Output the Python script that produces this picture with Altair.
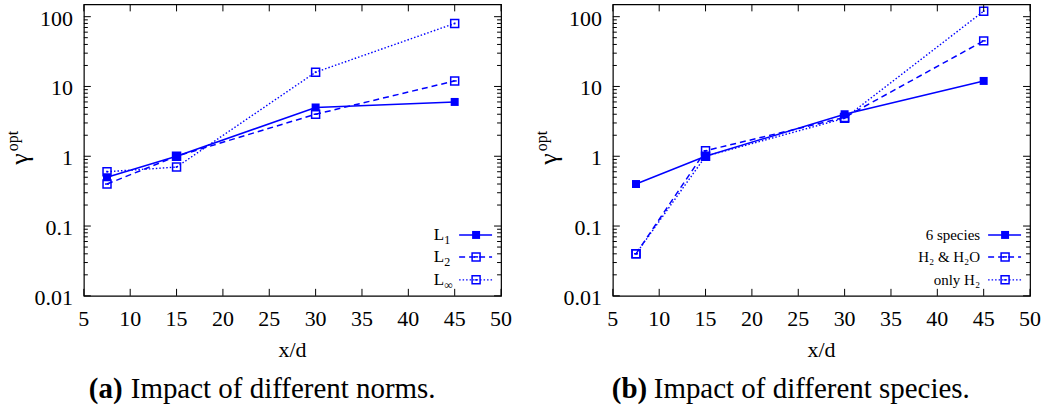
import altair as alt
import pandas as pd

# ---- data -------------------------------------------------------------
x_pos = [7.5, 15, 30, 45]

# (a) norms
norm_L1 = [0.5, 1.0, 5.0, 6.0]
norm_L2 = [0.4, 1.0, 4.0, 12.0]
norm_Linf = [0.6, 0.7, 16.0, 80.0]

# (b) species
sp_six = [0.4, 1.0, 4.0, 12.0]
sp_h2_h2o = [0.04, 1.2, 3.6, 45.0]
sp_only_h2 = [0.04, 1.0, 3.5, 120.0]

x_ticks = [5, 10, 15, 20, 25, 30, 35, 40, 45, 50]
x_tick_labels = ["5", "10", "15", "20", "25", "30", "35", "40", "45", "50"]
y_major = [0.01, 0.1, 1, 10, 100]
y_major_labels = ["0.01", "0.1", "1", "10", "100"]
y_minor = [m * 10.0 ** e for e in range(-2, 2) for m in range(2, 10)]

# ---- style ------------------------------------------------------------
BLUE = "#0000ff"
FONT = "Liberation Serif"
W, H = 418, 292

XS = alt.Scale(domain=[5, 50], nice=False, zero=False)
YS = alt.Scale(type="log", domain=[0.01, 150], nice=False)

STYLES = {
    "solid": dict(strokeWidth=1.5),
    "dash": dict(strokeWidth=1.5, strokeDash=[6, 4]),
    "dot": dict(strokeWidth=1.4, strokeDash=[1.5, 2]),
}


def one_row():
    return pd.DataFrame({"k": [0]})


def X(field="x"):
    return alt.X(f"{field}:Q", scale=XS, axis=None)


def Y(field="y"):
    return alt.Y(f"{field}:Q", scale=YS, axis=None)


def markers(chart, style, xenc=None, yenc=None):
    """Square markers: filled for solid lines, open with a centre mark otherwise."""
    enc = {}
    if xenc is not None:
        enc["x"] = xenc
    if yenc is not None:
        enc["y"] = yenc
    if style == "solid":
        return [chart.mark_square(size=64, color=BLUE, opacity=1).encode(**enc)]
    box = chart.mark_point(shape="square", size=64, filled=False, color=BLUE,
                           strokeWidth=1.5, opacity=1).encode(**enc)
    if style == "dash":
        inner = chart.mark_point(shape="M-0.5,0L0.5,0", size=64, filled=False,
                                 color=BLUE, strokeWidth=1.5, opacity=1).encode(**enc)
    else:
        inner = chart.mark_square(size=3, color=BLUE, opacity=1).encode(**enc)
    return [box, inner]


def series(values, style):
    df = pd.DataFrame({"x": x_pos, "y": values})
    base = alt.Chart(df)
    line = base.mark_line(color=BLUE, **STYLES[style]).encode(x=X(), y=Y())
    return [line] + markers(base, style, X(), Y())


def frame_ticks():
    xt = alt.Chart(pd.DataFrame({"x": x_ticks}))
    ym = alt.Chart(pd.DataFrame({"y": y_major}))
    yn = alt.Chart(pd.DataFrame({"y": y_minor}))
    r = dict(color="black", strokeWidth=1)
    return [
        xt.mark_rule(**r).encode(x=X(), y=alt.value(H), y2=alt.value(H - 7)),
        xt.mark_rule(**r).encode(x=X(), y=alt.value(0), y2=alt.value(7)),
        ym.mark_rule(**r).encode(y=Y(), x=alt.value(0), x2=alt.value(7)),
        ym.mark_rule(**r).encode(y=Y(), x=alt.value(W), x2=alt.value(W - 7)),
        yn.mark_rule(**r).encode(y=Y(), x=alt.value(0), x2=alt.value(4)),
        yn.mark_rule(**r).encode(y=Y(), x=alt.value(W), x2=alt.value(W - 4)),
    ]


def tick_labels():
    xl = alt.Chart(pd.DataFrame({"x": x_ticks, "label": x_tick_labels}))
    yl = alt.Chart(pd.DataFrame({"y": y_major, "label": y_major_labels}))
    return [
        xl.mark_text(font=FONT, fontSize=22, align="center", baseline="alphabetic",
                     color="black").encode(x=X(), y=alt.value(322), text="label:N"),
        yl.mark_text(font=FONT, fontSize=22, align="right", baseline="middle", dy=2,
                     color="black").encode(y=Y(), x=alt.value(-11), text="label:N"),
    ]


def text_at(txt, x, y, size, align="left", baseline="alphabetic", angle=0, weight="normal"):
    return alt.Chart(one_row()).mark_text(
        text=txt, font=FONT, fontSize=size, align=align, baseline=baseline,
        angle=angle, fontWeight=weight, color="black",
    ).encode(x=alt.value(x), y=alt.value(y))


def titles(tag, caption, caption_x):
    return [
        # y-axis title: gamma with superscript "opt", rotated
        text_at("γ", -56, 155, 26, align="center", angle=270),
        text_at("opt", -66, 137, 16, align="center", angle=270),
        # x-axis title
        text_at("x/d", W / 2, 353, 22, align="center"),
        # caption below the panel
        text_at(tag, caption_x, 394, 29, weight="bold"),
        text_at(caption, caption_x + 42, 394, 29),
    ]


def legend(entries, text_right):
    layers = []
    rows_y = [231, 253, 276]
    for (parts, style), y in zip(entries, rows_y):
        row = alt.Chart(one_row())
        layers.append(row.mark_rule(color=BLUE, **STYLES[style]).encode(
            x=alt.value(376), x2=alt.value(409), y=alt.value(y)))
        layers += markers(row.encode(x=alt.value(393), y=alt.value(y)), style)
        main, sub = parts
        if sub:
            layers.append(text_at(main, text_right - 7, y, 17, align="right", baseline="middle"))
            layers.append(text_at(sub, text_right - 7, y + 5, 12, align="left", baseline="middle"))
        else:
            layers.append(text_at(main, text_right, y, 15, align="right", baseline="middle"))
    return layers


def extent(x0, x1):
    # fixes the outer extent of each panel's drawing area
    return alt.Chart(one_row()).mark_rect(opacity=0).encode(
        x=alt.value(x0), x2=alt.value(x1), y=alt.value(-3), y2=alt.value(409))


left = alt.layer(
    extent(-83, 0),
    *series(norm_L1, "solid"),
    *series(norm_L2, "dash"),
    *series(norm_Linf, "dot"),
    *frame_ticks(),
    *tick_labels(),
    *titles("(a)", "Impact of different norms.", 5),
    *legend([(("L", "1"), "solid"), (("L", "2"), "dash"), (("L", "∞"), "dot")], 368),
).properties(width=W, height=H)

right = alt.layer(
    extent(0, W + 19),
    *series(sp_six, "solid"),
    *series(sp_h2_h2o, "dash"),
    *series(sp_only_h2, "dot"),
    *frame_ticks(),
    *tick_labels(),
    *titles("(b)", "Impact of different species.", -1),
    *legend([(("6 species", None), "solid"), (("H₂ & H₂O", None), "dash"),
             (("only H₂", None), "dot")], 368),
).properties(width=W, height=H)

chart = (
    alt.hconcat(left, right, spacing=112, bounds="flush")
    .properties(padding=0, background="white")
    .configure_view(stroke="black", strokeWidth=1.2)
)

chart.save("out.html", embed_options={"renderer": "svg", "actions": False})
